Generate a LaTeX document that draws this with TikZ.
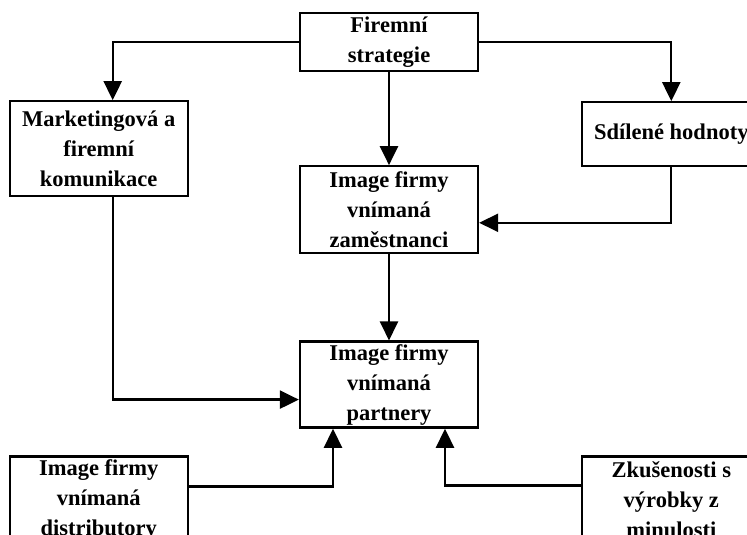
\documentclass[tikz,border=0pt]{standalone}
\usepackage{fontspec}
\setmainfont{Liberation Serif}
\usepackage{tikz}
\usetikzlibrary{arrows.meta,positioning}

\begin{document}
\begin{tikzpicture}[node distance=0.7cm and 0.6cm]
  \tikzstyle{block}=[rectangle,draw=black,line width=2.3pt,fill=white,minimum width=178pt,inner sep=0pt,align=center,font=\fontsize{22.5}{30}\selectfont\bfseries]
  \tikzstyle{conn}=[line width=2.3pt,-{Triangle[length=19pt,width=18pt]}]

  \useasboundingbox (0pt,0pt) rectangle (747pt,-535pt);
  \clip (0pt,0pt) rectangle (747pt,-535pt);

  \node[block,minimum height=58pt] (strat) at (389pt,-42pt) {Firemní\\strategie};
  \node[block,minimum height=95pt,below left=28pt and 110pt of strat] (mark) {Marketingová a\\firemní\\komunikace};
  \node[block,minimum height=64pt,below right=29pt and 102pt of strat] (share) {Sdílené hodnoty};
  \node[block,minimum height=87pt,below=93pt of strat] (zam) {Image firmy\\vnímaná\\zaměstnanci};
  \node[block,minimum height=86pt,below=86pt of zam] (part) {Image firmy\\vnímaná\\partnery};
  \node[block,minimum height=86pt,below=258pt of mark] (dist) {Image firmy\\vnímaná\\distributory};
  \node[block,minimum height=86pt,below=288pt of share] (zk) {Zkušenosti s\\výrobky z\\minulosti};

  \draw[conn] (strat.west) -| ([xshift=14pt]mark.north);
  \draw[conn] (strat.east) -| (share.north);
  \draw[conn] (strat) -- (zam);
  \draw[conn] (share.south) |- ([yshift=-13pt]zam.east);
  \draw[conn] (zam) -- (part);
  \draw[conn] ([xshift=14pt]mark.south) |- ([yshift=-15pt]part.west);
  \draw[conn] ([yshift=13pt]dist.east) -| ([xshift=-56pt]part.south);
  \draw[conn] ([yshift=14pt]zk.west) -| ([xshift=56pt]part.south);
\end{tikzpicture}
\end{document}
